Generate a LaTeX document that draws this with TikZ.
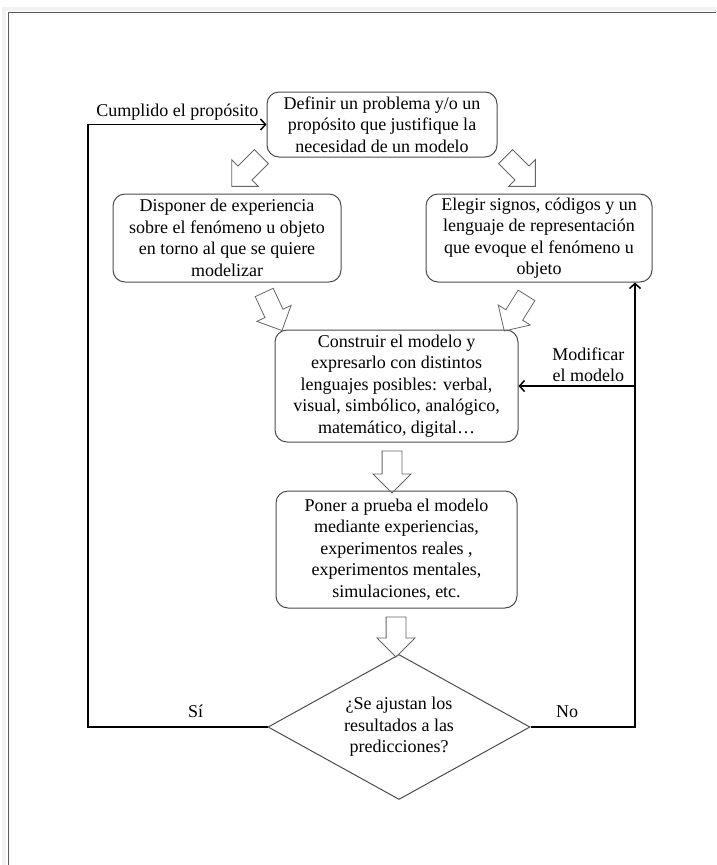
\documentclass[tikz,border=0pt]{standalone}
\usepackage{fontspec}
\setmainfont{Liberation Serif}
\usetikzlibrary{arrows.meta,shapes.geometric,shapes.arrows,calc}
\tikzset{
  stage/.style={draw=black!70, line width=1pt, rounded corners=12pt,
    align=center, inner sep=0pt},
  decision/.style={draw=black!70, line width=1pt, diamond, aspect=1.8,
    align=center, inner sep=0pt, minimum width=262pt, minimum height=145pt},
  hollow/.style={draw=black!60, line width=0.8pt, single arrow,
    single arrow head extend=9pt, inner xsep=0pt, inner ysep=9.5pt,
    minimum height=42pt},
  flow/.style={-{Straight Barb[length=5pt, width=11pt]}, line width=1.5pt},
  pagerule/.style={draw=black!65, line width=1.5pt},
}

\begin{document}
\begin{tikzpicture}[x=1pt, y=-1pt, font=\fontsize{18}{21.5}\selectfont]

  \useasboundingbox (0,0) rectangle (716,865);

  % Page edge
  \draw[black!5, line width=4pt] (4,865) -- (4,9) -- (716,9);
  \draw[pagerule] (8.5,865) -- (8.5,12.5) -- (716,12.5);

  % Stages
  \node[stage, minimum width=230pt, minimum height=65pt] (def) at (382,124.5)
    {Definir un problema y/o un\\propósito que justifique la\\necesidad de un modelo};
  \node[stage, minimum width=228pt, minimum height=88pt] (disp) at (227,238)
    {Disponer de experiencia\\sobre el fenómeno u objeto\\en torno al que se quiere\\modelizar};
  \node[stage, minimum width=226pt, minimum height=88pt] (eleg) at (539,238)
    {Elegir signos, códigos y un\\lenguaje de representación\\que evoque el fenómeno u\\objeto};
  \node[stage, minimum width=243pt, minimum height=112pt] (cons) at (396.5,386)
    {Construir el modelo y\\expresarlo con distintos\\lenguajes posibles: verbal,\\visual, simbólico, analógico,\\matemático, digital…};
  \node[stage, minimum width=241pt, minimum height=117pt] (prueba) at (396.5,549.5)
    {Poner a prueba el modelo\\mediante experiencias,\\experimentos reales ,\\experimentos mentales,\\simulaciones, etc.};
  \node[decision] (test) at (399,727)
    {¿Se ajustan los\\resultados a las\\predicciones?};

  % Hollow arrows between stages
  \node[hollow, rotate=-135] (a1) at (250,168) {};
  \node[hollow, rotate=-45] (a2) at (517,168) {};
  \node[hollow, rotate=-65] (a3) at (271,307) {};
  \node[hollow, rotate=-122] (a4) at (518,309) {};
  \node[hollow, rotate=-90] (a5) at (392,467) {};
  \node[hollow, rotate=-90, minimum height=40pt] (a6) at (396,632) {};

  % Feedback loops
  \coordinate (sicorner) at (88,727);
  \coordinate (nocorner) at (635,727);
  \draw[flow] (test.west) -- node[pos=0.4, above=5pt] {Sí} (sicorner)
    |- node[pos=0.75, above] {Cumplido el propósito} (def.west);
  \draw[flow] (test.east) -- node[pos=0.35, above=5pt] {No} (nocorner)
    -- (nocorner |- eleg.south);
  \draw[flow] (nocorner |- cons.east) -- node[pos=0.4, above, align=center]
    {Modificar\\el modelo} (cons.east);

\end{tikzpicture}
\end{document}
